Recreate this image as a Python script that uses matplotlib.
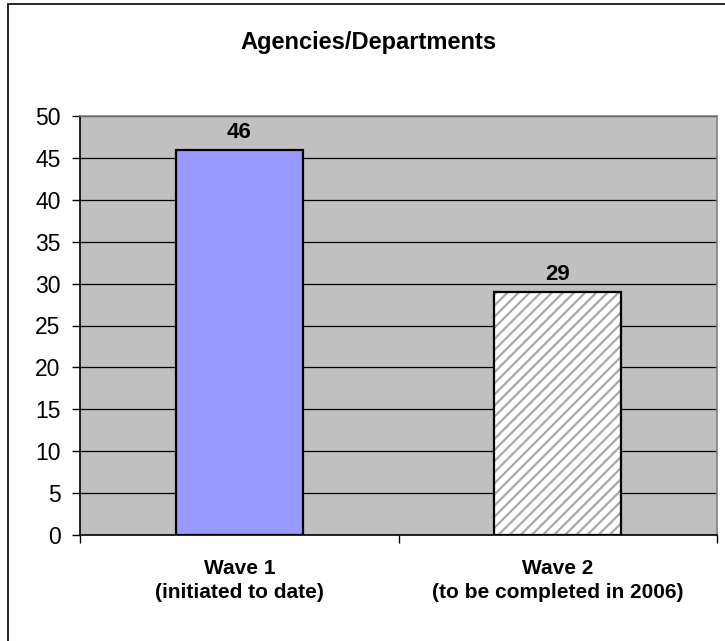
import matplotlib.pyplot as plt
from matplotlib.patches import Rectangle

categories = ['Wave 1\n(initiated to date)', 'Wave 2\n(to be completed in 2006)']
values = [46, 29]
yticks = [0, 5, 10, 15, 20, 25, 30, 35, 40, 45, 50]

plt.rcParams['font.family'] = ['Liberation Sans', 'DejaVu Sans']
plt.rcParams['hatch.linewidth'] = 1.6

fig = plt.figure(figsize=(7.25, 6.41), dpi=100)
ax = fig.add_axes([80 / 725, 1 - 535 / 641, 637 / 725, 419 / 641])

# outer chart frame (only left and top edges show)
fig.add_artist(Rectangle((8 / 725, -0.1), 1.2, 1 - 4 / 641 + 0.1,
                         transform=fig.transFigure, fill=False,
                         edgecolor='black', linewidth=1.2))

ax.set_facecolor('#C0C0C0')
ax.set_xlim(-0.5, 1.5)
ax.set_ylim(0, 50)
ax.set_yticks(yticks)
ax.yaxis.grid(True, color='black', linewidth=0.9)
ax.set_axisbelow(True)

x = range(len(values))
w = 0.4
ax.bar(0, values[0], width=w, color='#9999FF', edgecolor='black', linewidth=1.6, zorder=3)
ax.bar(1, values[1], width=w, color='white', edgecolor='#A8A8A8', hatch='///', linewidth=0, zorder=3)
ax.bar(1, values[1], width=w, fill=False, edgecolor='black', linewidth=1.6, zorder=4)

for xi, v in zip(x, values):
    ax.text(xi, v + 0.8, str(v), ha='center', va='bottom', fontsize=16, fontweight='bold')

ax.set_xticks(list(x))
ax.set_xticklabels(categories, fontsize=15, fontweight='bold', linespacing=1.35)
ax.tick_params(axis='x', which='major', length=0, pad=17)
ax.set_xticks([-0.5, 0.5, 1.5], minor=True)
ax.tick_params(axis='x', which='minor', length=6, width=1, color='black', direction='out')
ax.tick_params(axis='y', labelsize=16.5, length=6, width=1, direction='out', pad=8)

ax.spines['left'].set_color('black')
ax.spines['bottom'].set_color('black')
ax.spines['top'].set_color('#808080')
ax.spines['right'].set_color('#808080')
for s in ax.spines.values():
    s.set_linewidth(1.2)

fig.text(368 / 725, 1 - 42 / 641, 'Agencies/Departments', ha='center', va='center',
         fontsize=17, fontweight='bold')

fig.savefig('out.png', dpi=100)
